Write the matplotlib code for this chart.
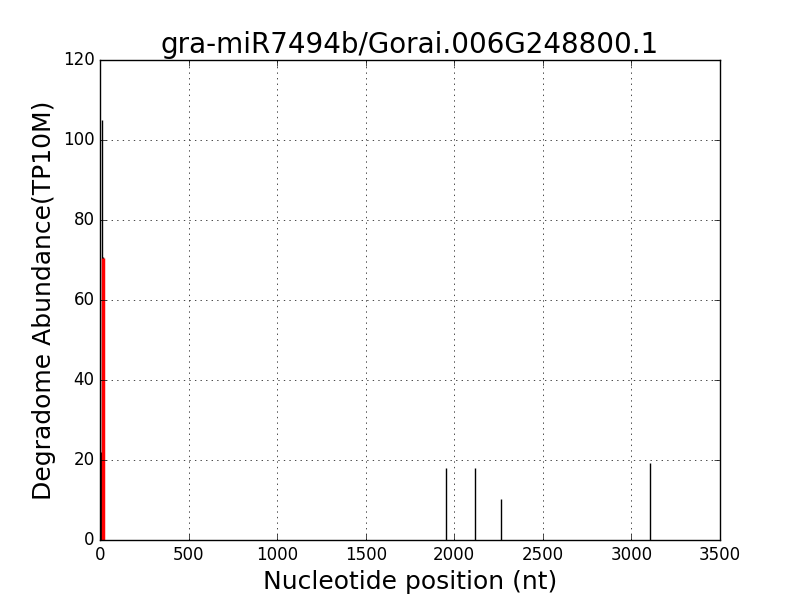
import matplotlib
matplotlib.use("Agg")
import matplotlib.pyplot as plt

plt.style.use('classic')

title = "gra-miR7494b/Gorai.006G248800.1"
positions = [8, 10, 18, 1951, 2117, 2261, 3105]
abundance = [22, 105, 70.7, 18, 18, 10.2, 19.2]
target_pos = [19]
target_abund = [70.5]

fig = plt.figure(figsize=(8, 6), dpi=100, facecolor='white')
ax = fig.add_subplot(111)
ax.vlines(positions, 0, abundance, colors='black', linewidth=1)
ax.vlines(target_pos, 0, target_abund, colors='red', linewidth=2.5)
ax.set_xlim(0, 3500)
ax.set_ylim(0, 120)
ax.grid(True)
ax.set_title(title, fontsize=20)
ax.set_xlabel("Nucleotide position (nt)", fontsize=18)
ax.set_ylabel("Degradome Abundance(TP10M)", fontsize=18)
fig.savefig("out.png", dpi=100, facecolor='white')
